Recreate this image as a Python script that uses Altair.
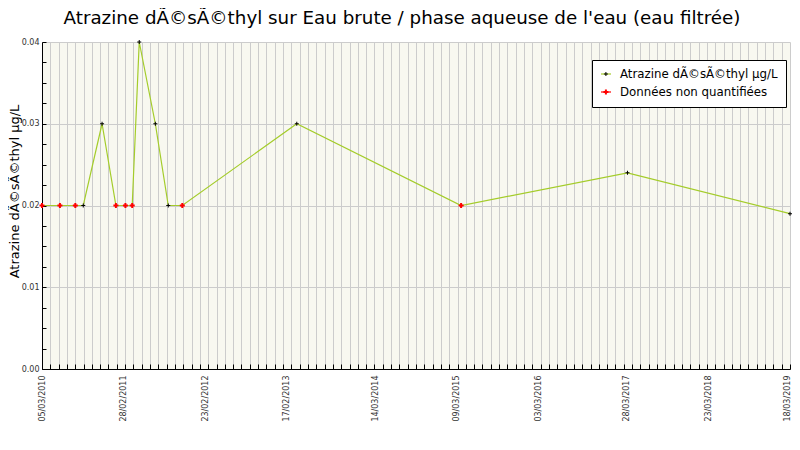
import altair as alt
import pandas as pd
import numpy as np

# ---- data ----
dates = ["2010-03-05", "2010-05-23", "2010-07-30", "2010-09-03", "2010-11-25",
         "2011-01-25", "2011-03-08", "2011-04-07", "2011-05-08", "2011-07-18",
         "2011-09-13", "2011-11-14", "2013-04-02", "2015-03-28", "2017-03-31",
         "2019-03-18"]
values = [0.02, 0.02, 0.02, 0.02, 0.03,
          0.02, 0.02, 0.02, 0.04, 0.03,
          0.02, 0.02, 0.03, 0.02, 0.024,
          0.019]
status = ["nq", "nq", "nq", "q", "q",
          "nq", "nq", "nq", "q", "q",
          "q", "nq", "q", "nq", "q",
          "q"]
tick_labels = ["05/03/2010", "28/02/2011", "23/02/2012", "17/02/2013", "14/03/2014",
               "09/03/2015", "03/03/2016", "28/03/2017", "23/03/2018", "18/03/2019"]
y_labels = [0.0, 0.01, 0.02, 0.03, 0.04]

TITLE = "Atrazine dÃ©sÃ©thyl sur Eau brute / phase aqueuse de l'eau (eau filtrée)"
Y_TITLE = "Atrazine dÃ©sÃ©thyl µg/L"
LEG_A = "Atrazine dÃ©sÃ©thyl µg/L"
LEG_D = "Données non quantifiées"

FONT = "DejaVu Sans"
GREEN = "#a4cc2a"
RED = "#ff0000"
GRID = "#cccccc"


def to_ms(s, fmt=None):
    ts = pd.to_datetime(s, format=fmt).tz_localize("UTC")
    return int(ts.value // 10**6)


label_ms = [to_ms(t, "%d/%m/%Y") for t in tick_labels]
start_ms, end_ms = label_ms[0], label_ms[-1]
grid_ms = [int(v) for v in np.linspace(start_ms, end_ms, 91)]
minor_y = [round(float(v), 4) for v in np.arange(0, 0.04001, 0.0025)]

df = pd.DataFrame({"date": dates, "value": values, "status": status})

BLACK_PLUS = "M-0.4,-0.1H-0.1V-0.4H0.1V-0.1H0.4V0.1H0.1V0.4H-0.1V0.1H-0.4Z"
RED_PLUS = "M-0.5,-0.2H-0.2V-0.5H0.2V-0.2H0.5V0.2H0.2V0.5H-0.2V0.2H-0.5Z"

x_scale = alt.Scale(type="utc", domain=[start_ms, end_ms])
y_scale = alt.Scale(domain=[0, 0.04], nice=False)

legend_a = alt.Legend(
    orient="none", legendX=550, legendY=18, title=None,
    symbolType="stroke", symbolSize=100, symbolStrokeWidth=1.2,
    labelFont=FONT, labelFontSize=11.8, labelColor="black", labelOffset=8,
    padding=8, rowPadding=5, fillColor="white", strokeColor="black",
)
legend_b = alt.Legend(
    orient="none", legendX=550, legendY=18, title=None,
    symbolSize=100, symbolStrokeWidth=0,
    labelFont=FONT, labelFontSize=11.8, labelOpacity=0, labelOffset=8,
    padding=8, rowPadding=5,
)

base = alt.Chart(df)

line = base.transform_calculate(
    series="'" + LEG_A + "'"
).mark_line(strokeWidth=1.2).encode(
    x=alt.X("date:T", scale=x_scale, title=None,
            axis=alt.Axis(values=label_ms, format="%d/%m/%Y", labelAngle=270,
                          grid=False, tickSize=0, labelPadding=6,
                          labelOffset={"condition": {"test": f"+datum.value >= {end_ms - 86400000}",
                                                     "value": -3},
                                       "value": 0},
                          labelFont=FONT, labelFontSize=8, labelColor="#333333",
                          labelFlush=False, labelOverlap=False, labelBound=False,
                          domainColor="black", domainWidth=1)),
    y=alt.Y("value:Q", scale=y_scale, title=Y_TITLE,
            axis=alt.Axis(values=y_labels, format=".2f", grid=True, gridColor=GRID,
                          gridWidth=1, tickSize=0, labelPadding=3,
                          labelFont=FONT, labelFontSize=8, labelColor="#333333",
                          labelFlush=False, labelOverlap=False,
                          domainColor="black", domainWidth=1,
                          titleFont=FONT, titleFontSize=13, titleFontWeight="normal",
                          titleColor="black", titlePadding=0, titleY=149)),
    stroke=alt.Stroke("series:N",
                      scale=alt.Scale(domain=[LEG_A, LEG_D], range=[GREEN, RED]),
                      legend=legend_a),
)

points = base.mark_point(filled=True, size=100, strokeWidth=0, opacity=1).encode(
    x=alt.X("date:T", scale=x_scale, title=None,
            axis=alt.Axis(values=grid_ms, orient="bottom", offset=-5, tickSize=5,
                          tickColor="black", labels=False, domain=False,
                          grid=True, gridColor=GRID, gridWidth=1)),
    y=alt.Y("value:Q", scale=y_scale, title=None,
            axis=alt.Axis(values=minor_y, orient="left", offset=-4, tickSize=4,
                          tickColor="black", labels=False, domain=False, grid=False)),
    shape=alt.Shape("status:N",
                    scale=alt.Scale(domain=["q", "nq"], range=[BLACK_PLUS, RED_PLUS]),
                    legend=legend_b),
    color=alt.Color("status:N",
                    scale=alt.Scale(domain=["q", "nq"], range=["black", RED]),
                    legend=legend_b),
)

chart = alt.layer(line, points).resolve_axis(
    x="independent", y="independent"
).properties(
    width=748, height=327,
    padding={"left": 34, "top": 34, "right": 2, "bottom": 62},
    autosize=alt.AutoSizeParams(type="none"),
    background="white",
    title=alt.Title(TITLE, font=FONT, fontSize=18.3, fontWeight="normal",
                    color="black", anchor="middle", dx=-14, offset=10),
).configure_view(
    fill="#f8f8f0", stroke="transparent"
)

chart.save("out.html", embed_options={"renderer": "svg", "actions": False})
